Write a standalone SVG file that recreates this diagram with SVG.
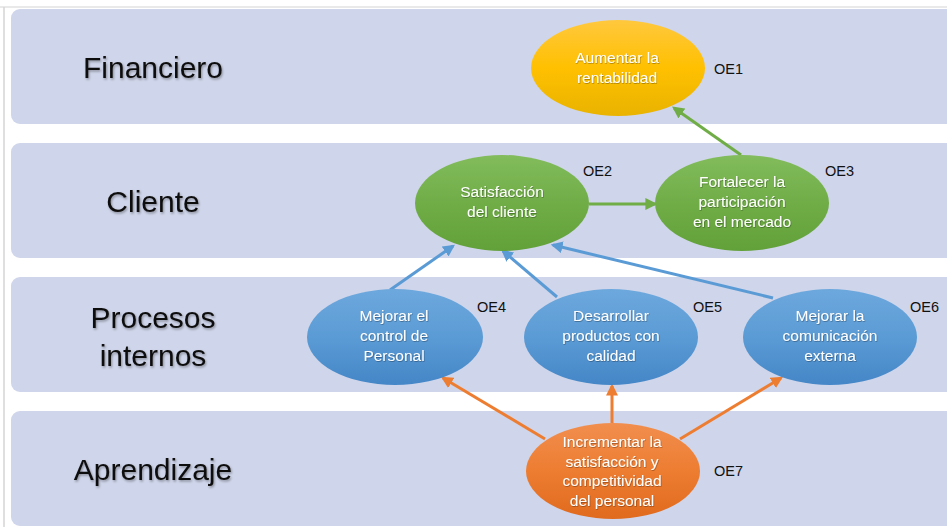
<svg xmlns="http://www.w3.org/2000/svg" width="947" height="527" viewBox="0 0 947 527">
  <style>
    .band { fill: #CFD5EA; }
    .lane { font-family: "Liberation Sans", Arial, sans-serif; font-size: 30px; fill: #111; text-anchor: middle; filter: url(#tshadow); }
    .node-text { font-family: "Liberation Sans", Arial, sans-serif; font-size: 15.5px; fill: #fff; text-anchor: middle; filter: url(#wshadow); }
    .code { font-family: "Liberation Sans", Arial, sans-serif; font-size: 14.5px; fill: #111; }
    .green { stroke: #70AD47; stroke-width: 3; fill: none; marker-end: url(#ah-green); }
    .blue { stroke: #5B9BD5; stroke-width: 3; fill: none; marker-end: url(#ah-blue); }
    .orange { stroke: #ED7D31; stroke-width: 3; fill: none; marker-end: url(#ah-orange); }
  </style>
  <defs>
    <linearGradient id="g-yellow" x1="0" y1="0" x2="0" y2="1">
      <stop offset="0" stop-color="#FFC83E"/>
      <stop offset="0.5" stop-color="#FFC000"/>
      <stop offset="1" stop-color="#E9B300"/>
    </linearGradient>
    <linearGradient id="g-green" x1="0" y1="0" x2="0" y2="1">
      <stop offset="0" stop-color="#82BC5C"/>
      <stop offset="0.5" stop-color="#70AD47"/>
      <stop offset="1" stop-color="#62A03A"/>
    </linearGradient>
    <linearGradient id="g-blue" x1="0" y1="0" x2="0" y2="1">
      <stop offset="0" stop-color="#6DA8DD"/>
      <stop offset="0.5" stop-color="#5B9BD5"/>
      <stop offset="1" stop-color="#4486C7"/>
    </linearGradient>
    <linearGradient id="g-orange" x1="0" y1="0" x2="0" y2="1">
      <stop offset="0" stop-color="#F18E4E"/>
      <stop offset="0.5" stop-color="#ED7D31"/>
      <stop offset="1" stop-color="#E06A1E"/>
    </linearGradient>
    <filter id="tshadow" x="-10%" y="-20%" width="120%" height="150%">
      <feDropShadow dx="1" dy="1.5" stdDeviation="0.8" flood-color="#000" flood-opacity="0.35"/>
    </filter>
    <filter id="wshadow" x="-10%" y="-20%" width="120%" height="150%">
      <feDropShadow dx="0.6" dy="0.8" stdDeviation="0.6" flood-color="#000" flood-opacity="0.35"/>
    </filter>
    <marker id="ah-green" viewBox="0 0 10 10" refX="8" refY="5" markerWidth="4" markerHeight="4" orient="auto">
      <path d="M0,0 L10,5 L0,10 Z" fill="#70AD47"/>
    </marker>
    <marker id="ah-blue" viewBox="0 0 10 10" refX="8" refY="5" markerWidth="4" markerHeight="4" orient="auto">
      <path d="M0,0 L10,5 L0,10 Z" fill="#5B9BD5"/>
    </marker>
    <marker id="ah-orange" viewBox="0 0 10 10" refX="8" refY="5" markerWidth="4" markerHeight="4" orient="auto">
      <path d="M0,0 L10,5 L0,10 Z" fill="#ED7D31"/>
    </marker>
  </defs>

  <rect width="947" height="527" fill="#fff"/>
  <!-- frame edges -->
  <line x1="0" y1="7" x2="947" y2="7" stroke="#E2E2E2" stroke-width="1.5"/>
  <line x1="4" y1="7" x2="4" y2="527" stroke="#D4D4D4" stroke-width="1.5"/>

  <!-- perspective bands -->
  <g id="bands">
    <rect class="band" x="11" y="9" width="950" height="115" rx="9"/>
    <rect class="band" x="11" y="143" width="950" height="115" rx="9"/>
    <rect class="band" x="11" y="277" width="950" height="115" rx="9"/>
    <rect class="band" x="11" y="411" width="950" height="115" rx="9"/>
    <text class="lane" x="153" y="78">Financiero</text>
    <text class="lane" x="153" y="212">Cliente</text>
    <text class="lane" x="153" y="328">Procesos</text>
    <text class="lane" x="153" y="366">internos</text>
    <text class="lane" x="153" y="480">Aprendizaje</text>
  </g>

  <!-- connectors -->
  <g id="connectors">
    <line class="green" x1="741" y1="155" x2="674" y2="108"/>
    <line class="green" x1="589" y1="204" x2="655" y2="204"/>
    <line class="blue" x1="390" y1="290" x2="453" y2="246"/>
    <line class="blue" x1="557" y1="297" x2="503" y2="251"/>
    <line class="blue" x1="773" y1="298" x2="553" y2="245"/>
    <line class="orange" x1="545" y1="439" x2="443" y2="378"/>
    <line class="orange" x1="612" y1="423" x2="612" y2="386"/>
    <line class="orange" x1="680" y1="439" x2="781" y2="378"/>
  </g>

  <g id="OE1">
    <ellipse cx="618" cy="68" rx="87" ry="48" fill="url(#g-yellow)"/>
    <text class="node-text" x="617" y="63">Aumentar la</text>
    <text class="node-text" x="617" y="83">rentabilidad</text>
    <text class="code" x="714" y="74">OE1</text>
  </g>

  <g id="OE2">
    <ellipse cx="502" cy="203" rx="87" ry="48" fill="url(#g-green)"/>
    <text class="node-text" x="502" y="197">Satisfacción</text>
    <text class="node-text" x="502" y="217">del cliente</text>
    <text class="code" x="583" y="176">OE2</text>
  </g>

  <g id="OE3">
    <ellipse cx="742" cy="203" rx="87" ry="48" fill="url(#g-green)"/>
    <text class="node-text" x="742" y="187">Fortalecer la</text>
    <text class="node-text" x="742" y="207">participación</text>
    <text class="node-text" x="742" y="227">en el mercado</text>
    <text class="code" x="825" y="176">OE3</text>
  </g>

  <g id="OE4">
    <ellipse cx="395" cy="337" rx="88" ry="48" fill="url(#g-blue)"/>
    <text class="node-text" x="394" y="321">Mejorar el</text>
    <text class="node-text" x="394" y="341">control de</text>
    <text class="node-text" x="394" y="361">Personal</text>
    <text class="code" x="477" y="312">OE4</text>
  </g>

  <g id="OE5">
    <ellipse cx="611" cy="337" rx="87" ry="48" fill="url(#g-blue)"/>
    <text class="node-text" x="611" y="321">Desarrollar</text>
    <text class="node-text" x="611" y="341">productos con</text>
    <text class="node-text" x="611" y="361">calidad</text>
    <text class="code" x="693" y="312">OE5</text>
  </g>

  <g id="OE6">
    <ellipse cx="830" cy="337" rx="87" ry="48" fill="url(#g-blue)"/>
    <text class="node-text" x="830" y="321">Mejorar la</text>
    <text class="node-text" x="830" y="341">comunicación</text>
    <text class="node-text" x="830" y="361">externa</text>
    <text class="code" x="910" y="312">OE6</text>
  </g>

  <g id="OE7">
    <ellipse cx="613" cy="471" rx="87" ry="48" fill="url(#g-orange)"/>
    <text class="node-text" x="612" y="447">Incrementar la</text>
    <text class="node-text" x="612" y="467">satisfacción y</text>
    <text class="node-text" x="612" y="486">competitividad</text>
    <text class="node-text" x="612" y="506">del personal</text>
    <text class="code" x="714" y="476">OE7</text>
  </g>
</svg>
